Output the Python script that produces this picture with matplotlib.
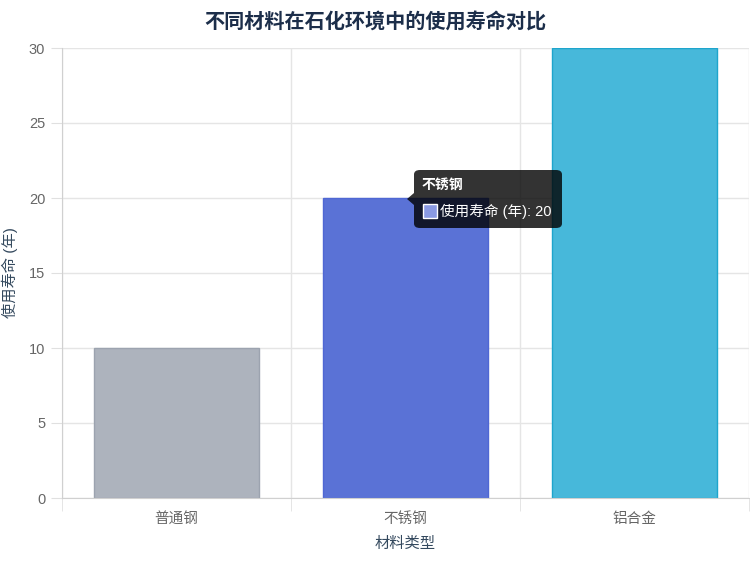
import matplotlib.pyplot as plt
from matplotlib.patches import FancyBboxPatch, Polygon, Rectangle

plt.rcParams['font.family'] = ['Liberation Sans', 'Noto Sans CJK SC', 'DejaVu Sans']

materials = ['普通钢', '不锈钢', '铝合金']
lifetime = [10, 20, 30]
fill_colors = ['#adb3bd', '#5a72d6', '#47b8da']
edge_colors = ['#9ca3af', '#4f67d4', '#1ea5cc']
tooltip_index = 1

fig = plt.figure(figsize=(7.5, 5.62), dpi=100)
ax = fig.add_axes([62 / 750, (562 - 498) / 562, (749 - 62) / 750, 450 / 562])

x = range(len(materials))
ax.bar(x, lifetime, width=0.72, color=fill_colors, edgecolor=edge_colors, linewidth=1, zorder=2)

ax.set_xlim(-0.5, 2.5)
ax.set_ylim(0, 30)
ax.set_yticks(range(0, 31, 5))
ax.set_xticks(x)
ax.set_xticklabels(materials)
ax.set_xticks([-0.5, 0.5, 1.5, 2.5], minor=True)
ax.tick_params(axis='x', which='major', length=0, pad=10, labelsize=10.5, labelcolor='#666666')
ax.tick_params(axis='x', which='minor', length=9, color='#e0e0e0')
ax.tick_params(axis='y', length=8, color='#e0e0e0', labelsize=10.5, labelcolor='#666666', pad=4)
ax.grid(axis='y', color='#e5e5e5', linewidth=1, zorder=0)
ax.grid(axis='x', which='minor', color='#e5e5e5', linewidth=1, zorder=0)
for s in ['top', 'right']:
    ax.spines[s].set_visible(False)
ax.spines['left'].set_color('#d0d0d0')
ax.spines['bottom'].set_color('#d0d0d0')

ax.set_xlabel('材料类型', fontsize=11, color='#34495e', labelpad=8)
ax.set_ylabel('使用寿命 (年)', fontsize=11, color='#34495e', labelpad=8)
fig.text(0.5, 1 - 22 / 562, '不同材料在石化环境中的使用寿命对比', ha='center', va='center',
         fontsize=14.5, fontweight='bold', color='#1c2e4a')

# tooltip (pixel coords, figure space)
def px(xp, yp):
    return xp / 750, 1 - yp / 562

tx0, ty0, tx1, ty1 = 414, 170, 562, 228
box = FancyBboxPatch(px(tx0, ty1), (tx1 - tx0) / 750, (ty1 - ty0) / 562,
                     boxstyle='round,pad=0,rounding_size=0.008', transform=fig.transFigure,
                     facecolor='black', alpha=0.8, edgecolor='none', zorder=5)
fig.patches.append(box)
caret = Polygon([px(tx0, 193), px(407, 199), px(tx0, 205)], closed=True, transform=fig.transFigure,
                facecolor='black', alpha=0.8, edgecolor='none', zorder=5)
fig.patches.append(caret)
fig.text(*px(422, 185), materials[tooltip_index], fontsize=10, fontweight='bold', color='white',
         va='center', ha='left', zorder=6)
swatch = Rectangle(px(423, 218), 14 / 750, 14 / 562, transform=fig.transFigure,
                   facecolor='#8a9ae3', edgecolor='white', linewidth=1, zorder=6)
fig.patches.append(swatch)
fig.text(*px(440, 211), f'使用寿命 (年): {lifetime[tooltip_index]}', fontsize=10.5, color='white',
         va='center', ha='left', zorder=6)

fig.savefig('out.png', dpi=100)
